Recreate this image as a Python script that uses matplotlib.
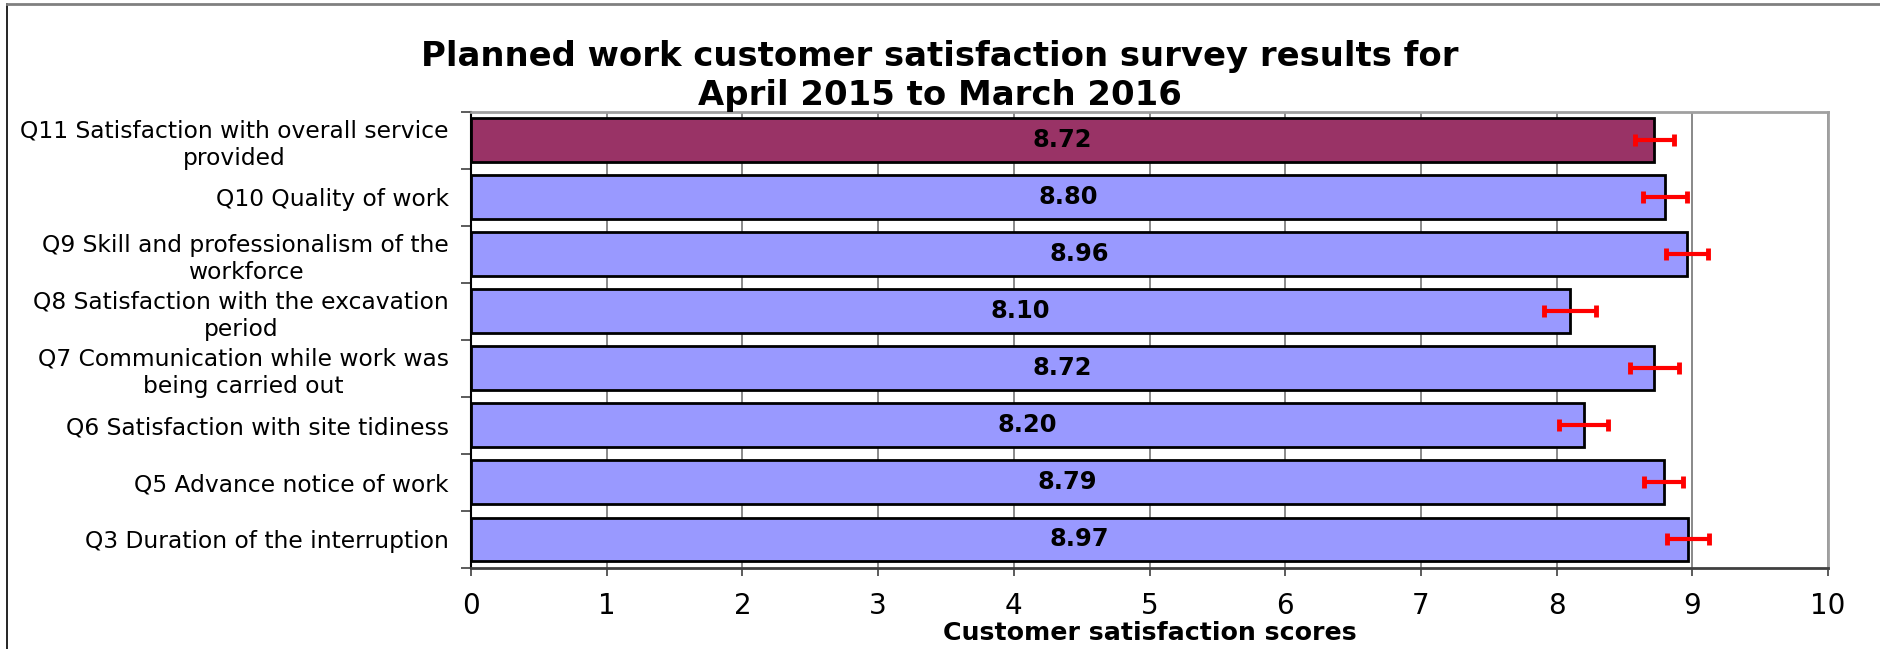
import matplotlib
matplotlib.use("Agg")
import matplotlib.pyplot as plt
from matplotlib.lines import Line2D
import numpy as np

# top-to-bottom as shown in the chart
questions = [
    "Q11 Satisfaction with overall service\nprovided",
    "Q10 Quality of work",
    "Q9 Skill and professionalism of the\nworkforce",
    "Q8 Satisfaction with the excavation\nperiod",
    "Q7 Communication while work was\nbeing carried out",
    "Q6 Satisfaction with site tidiness",
    "Q5 Advance notice of work",
    "Q3 Duration of the interruption",
]
scores = [8.72, 8.80, 8.96, 8.10, 8.72, 8.20, 8.79, 8.97]
err_half = [0.145, 0.16, 0.155, 0.19, 0.18, 0.18, 0.145, 0.155]
x_ticks = list(range(0, 11))

OVERALL = "#993366"
OTHER = "#9999FF"

plt.rcParams["font.family"] = "DejaVu Sans"

W, H = 1880, 649
fig = plt.figure(figsize=(W / 100, H / 100), dpi=100)
ax = fig.add_axes([471 / W, 1 - 568 / H, (1828 - 471) / W, (568 - 111.7) / H])

y = np.arange(len(questions))
colors = [OVERALL] + [OTHER] * (len(questions) - 1)
ax.barh(y, scores, height=0.77, color=colors, edgecolor="black", linewidth=2, zorder=3)
ax.errorbar(scores, y, xerr=err_half, fmt="none", ecolor="#FF0000",
            elinewidth=3, capsize=4, capthick=3.5, zorder=4)

for yi, s in zip(y, scores):
    ax.text(s / 2, yi, f"{s:.2f}", ha="center", va="center",
            fontsize=17.4, fontweight="bold", zorder=5)

ax.set_xlim(0, 10)
ax.set_ylim(len(questions) - 0.5, -0.5)
ax.set_xticks(x_ticks)
ax.set_xticklabels([str(t) for t in x_ticks], fontsize=20)
ax.tick_params(axis="x", direction="out", length=6, width=1.2, pad=11, color="#404040")
ax.grid(axis="x", color="#808080", linewidth=1.3, zorder=0)

ax.set_yticks(y)
ax.set_yticklabels(questions, fontsize=16.8, ha="right", multialignment="center",
                   linespacing=1.22)
ax.tick_params(axis="y", length=0, pad=16)
ax.set_yticks(np.arange(-0.5, len(questions), 1.0), minor=True)
ax.tick_params(axis="y", which="minor", direction="out", length=7, width=1.2, color="#404040")

for side in ("top", "right"):
    ax.spines[side].set_color("#A0A0A0")
    ax.spines[side].set_linewidth(2)
ax.spines["left"].set_color("black")
ax.spines["left"].set_linewidth(1.5)
ax.spines["bottom"].set_color("#404040")
ax.spines["bottom"].set_linewidth(2)

ax.set_xlabel("Customer satisfaction scores", fontsize=18.2, fontweight="bold", labelpad=1)

fig.text(0.5, 1 - 76 / H, "Planned work customer satisfaction survey results for\nApril 2015 to March 2016",
         ha="center", va="center", fontsize=24.4, fontweight="bold", linespacing=1.2)

# outer chart frame (left and top edges visible in the reference)
fig.add_artist(Line2D([7 / W, 7 / W], [0, 1 - 4 / H], color="black", lw=1.2, transform=fig.transFigure))
fig.add_artist(Line2D([7 / W, 1], [1 - 4 / H, 1 - 4 / H], color="#808080", lw=2, transform=fig.transFigure))

fig.savefig("out.png", dpi=100, facecolor="white")
